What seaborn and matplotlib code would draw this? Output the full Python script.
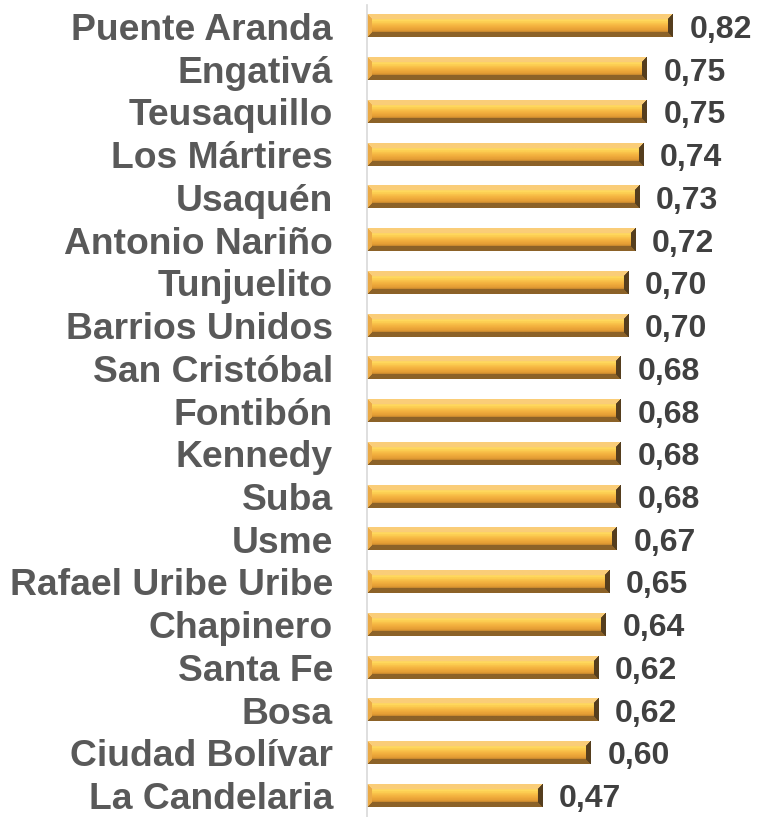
import numpy as np
import matplotlib
matplotlib.use("Agg")
import matplotlib.pyplot as plt
import seaborn as sns
import pandas as pd

districts = ["Puente Aranda", "Engativá", "Teusaquillo", "Los Mártires", "Usaquén",
             "Antonio Nariño", "Tunjuelito", "Barrios Unidos", "San Cristóbal",
             "Fontibón", "Kennedy", "Suba", "Usme", "Rafael Uribe Uribe",
             "Chapinero", "Santa Fe", "Bosa", "Ciudad Bolívar", "La Candelaria"]
values = [0.82, 0.75, 0.75, 0.74, 0.73, 0.72, 0.70, 0.70, 0.68, 0.68,
          0.68, 0.68, 0.67, 0.65, 0.64, 0.62, 0.62, 0.60, 0.47]

df = pd.DataFrame({"district": districts, "value": values})

sns.set_style("white")
plt.rcParams["font.family"] = ["Liberation Sans", "DejaVu Sans"]

fig = plt.figure(figsize=(7.65, 8.17), dpi=100)
ax = fig.add_axes([367 / 765, 0.0, (765 - 367) / 765, 812 / 817])

sns.barplot(data=df, x="value", y="district", orient="h", color="#f5b447",
            width=0.52, ax=ax)

xlim = (0, 1.067)
ylim = ax.get_ylim()

# bevelled gold look for each bar
px_per_unit = 373
bev = 5
interior = np.array([
    [253, 214, 121], [255, 224, 110], [255, 216, 92], [252, 204, 80],
    [247, 188, 70], [242, 176, 62], [234, 164, 56], [222, 152, 50],
    [208, 140, 48], [192, 130, 45],
]) / 255.0
top_c = np.array([250, 205, 120]) / 255.0
bot_c = np.array([140, 98, 40]) / 255.0
left_c = np.array([235, 170, 70]) / 255.0
right_c = np.array([85, 62, 30]) / 255.0

for p in ax.patches:
    x0, y0, w, h = p.get_x(), p.get_y(), p.get_width(), p.get_height()
    H = 22
    W = max(int(round(w * px_per_unit)), 2 * bev + 1)
    rows = np.arange(H)[:, None] + 0.5
    cols = np.arange(W)[None, :] + 0.5
    d_top = np.broadcast_to(rows, (H, W))
    d_bot = np.broadcast_to(H - rows, (H, W))
    d_left = np.broadcast_to(cols, (H, W))
    d_right = np.broadcast_to(W - cols, (H, W))
    grad_idx = np.clip((rows / H * len(interior)).astype(int), 0, len(interior) - 1)
    img = np.broadcast_to(interior[grad_idx[:, 0]][:, None, :], (H, W, 3)).copy()
    dmin = np.minimum(np.minimum(d_top, d_bot), np.minimum(d_left, d_right))
    edge = dmin < bev
    img[edge & (d_top == dmin)] = top_c
    img[edge & (d_bot == dmin)] = bot_c
    img[edge & (d_left == dmin)] = left_c
    img[edge & (d_right == dmin)] = right_c
    p.set_facecolor("none")
    p.set_edgecolor("none")
    ax.imshow(img, extent=(x0, x0 + w, y0 + h, y0), origin="upper",
              aspect="auto", interpolation="bilinear", zorder=2)

ax.set_xlim(xlim)
ax.set_ylim(ylim)

labels = [f"{v:.2f}".replace(".", ",") for v in values]
texts = ax.bar_label(ax.containers[0], labels=labels, padding=12, fontsize=23,
                     fontweight="bold", color="#404040")
for t in texts:
    t.set_verticalalignment("center_baseline")

ax.set_xlabel("")
ax.set_ylabel("")
ax.set_xticks([])
ax.tick_params(axis="y", length=0, pad=24.5)
for t in ax.get_yticklabels():
    t.set_fontsize(26.8)
    t.set_fontweight("bold")
    t.set_color("#595959")

sns.despine(ax=ax, top=True, right=True, bottom=True, left=False)
ax.spines["left"].set_color("#d9d9d9")
ax.spines["left"].set_linewidth(1.2)

fig.savefig("out.png", dpi=100)
